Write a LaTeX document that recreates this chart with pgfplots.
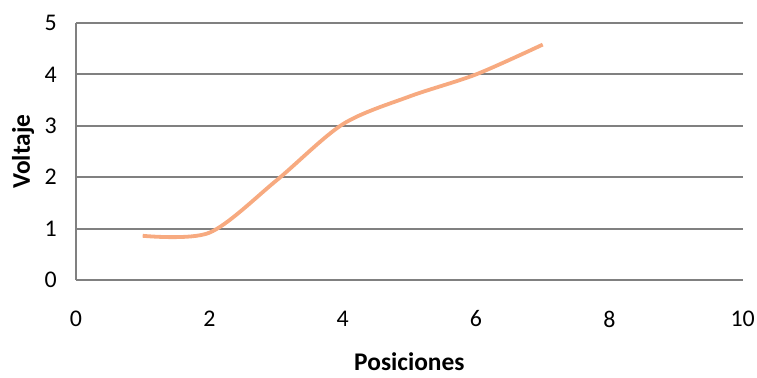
\documentclass[border=0pt]{standalone}
\usepackage{pgfplots}
\pgfplotsset{compat=1.18}
\usepackage{fontspec}
\setmainfont{Carlito}
\definecolor{gridgray}{RGB}{128,128,128}
\definecolor{lineorange}{RGB}{247,170,128}
\begin{document}
\begin{tikzpicture}
\useasboundingbox (0,0) rectangle (757bp,378bp);
\begin{axis}[
  at={(76bp,98bp)}, anchor=south west,
  scale only axis, width=666.7bp, height=257bp,
  xmin=0, xmax=10, ymin=0, ymax=5,
  xtick={0,2,...,10}, ytick={0,1,...,5},
  axis lines=left,
  axis line style={gridgray, line width=2bp, -},
  ymajorgrids, grid style={gridgray, line width=2bp},
  major tick length=0pt,
  tick label style={font=\fontsize{24}{24}\selectfont, text=black, inner sep=0pt},
  /pgf/number format/assume math mode=true,
  xticklabel style={anchor=center, yshift=-39bp},
  yticklabel style={anchor=east, xshift=-19bp},
  label style={font=\bfseries\fontsize{25.5}{25.5}\selectfont},
  xlabel={Posiciones},
  ylabel={Voltaje},
  xlabel style={at={(axis description cs:0.5,-0.319)}, anchor=center},
  ylabel style={at={(axis description cs:-0.0795,0.5)}, anchor=center},
  clip=false,
]
\addplot[lineorange, line width=3.8bp, smooth, tension=0.5] coordinates {
  (1,0.86) (2,0.92) (3,1.93) (4,3.03) (5,3.57) (6,4.0) (7,4.58)
};
\end{axis}
\end{tikzpicture}
\end{document}
